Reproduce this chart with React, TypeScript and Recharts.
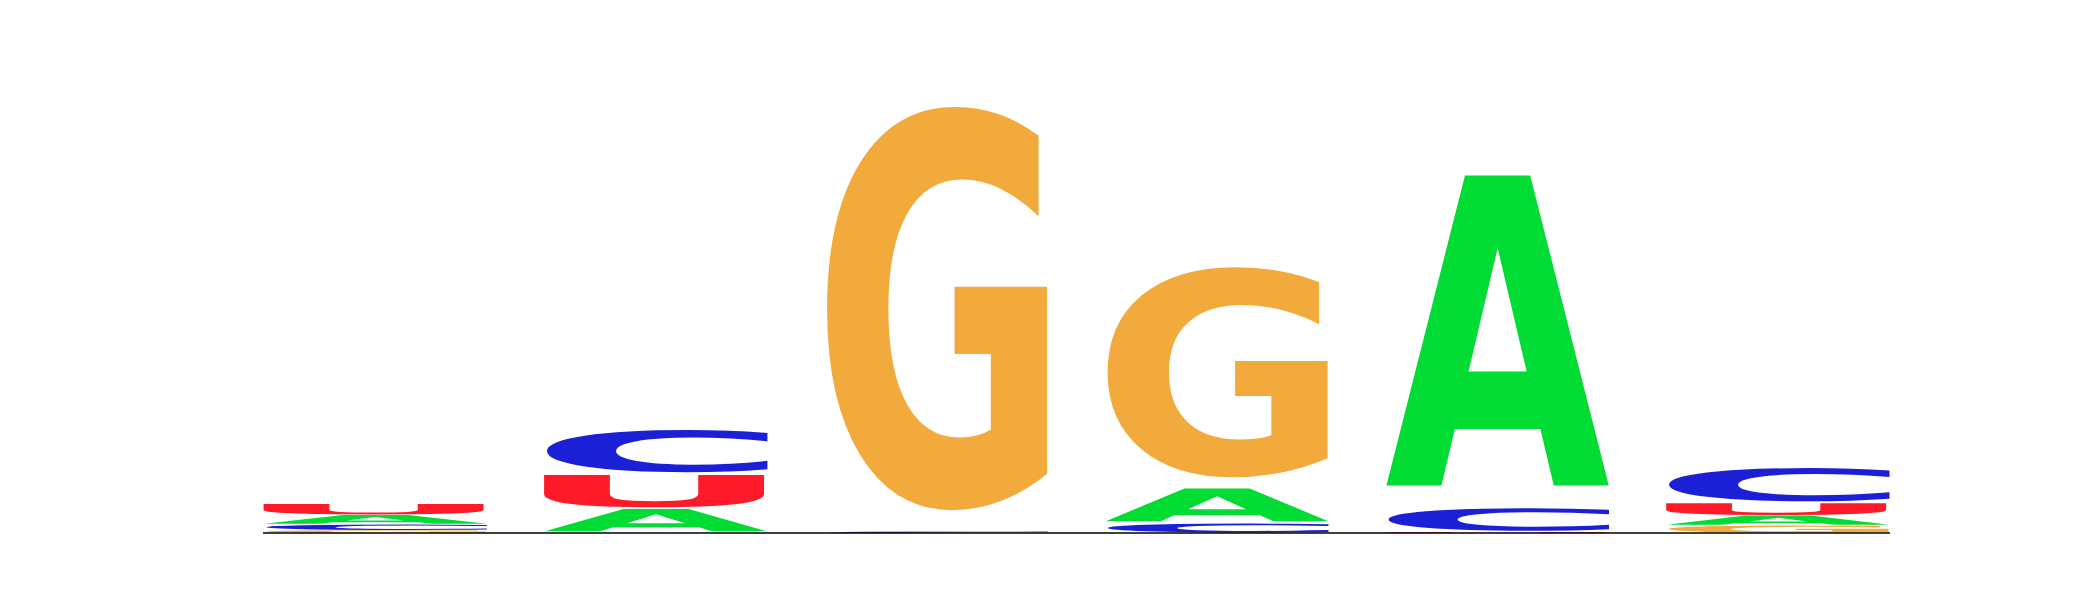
import React from 'react';
import { BarChart, Bar, XAxis, YAxis } from 'recharts';

const positions = [1, 2, 3, 4, 5, 6];
const letterA = [0.038, 0.096, 0, 0.14, 1.332, 0.04];
const letterC = [0.023, 0.18, 0.006, 0.038, 0.096, 0.141];
const letterG = [0.011, 0, 1.715, 0.894, 0, 0.03];
const letterU = [0.045, 0.138, 0, 0, 0.004, 0.05];

const LETTERS = ['A', 'C', 'G', 'U'];
const SERIES: Record<string, number[]> = { A: letterA, C: letterC, G: letterG, U: letterU };
const COLORS: Record<string, string> = {
  A: '#00DC33',
  C: '#1B1FD6',
  G: '#F2AA3C',
  U: '#FF1A2A',
};

const FONT = 'DejaVu Sans';
const FONT_SIZE = 100;
const INK = 0.945; // fraction of each stack cell covered by the glyph

// table: for each position, letters sorted ascending (smallest at the bottom)
const table = positions.map((pos, i) => {
  const row: Record<string, any> = { pos };
  const sorted = LETTERS.map((l) => ({ l, v: SERIES[l][i] }))
    .filter((d) => d.v > 0)
    .sort((a, b) => a.v - b.v);
  for (let r = 0; r < 4; r++) {
    row[`h${r}`] = sorted[r] ? sorted[r].v : 0;
    row[`l${r}`] = sorted[r] ? sorted[r].l : '';
  }
  return row;
});

type Metric = { L: number; R: number; A: number; D: number };
const metricCache: Record<string, Metric> = {};
const FALLBACK: Record<string, Metric> = {
  A: { L: -1, R: 76.5, A: 72.9, D: 0 },
  C: { L: -5.5, R: 67.5, A: 74.3, D: 1.5 },
  G: { L: -5.5, R: 77, A: 74.3, D: 1.5 },
  U: { L: -8.6, R: 72.6, A: 72.9, D: 1.5 },
};
function metrics(letter: string): Metric {
  if (metricCache[letter]) return metricCache[letter];
  let m: Metric = FALLBACK[letter];
  try {
    const c = document.createElement('canvas');
    const ctx = c.getContext('2d');
    if (ctx) {
      ctx.font = `bold ${FONT_SIZE}px "${FONT}"`;
      const t = ctx.measureText(letter);
      if (t.actualBoundingBoxRight + t.actualBoundingBoxLeft > 1) {
        m = {
          L: t.actualBoundingBoxLeft,
          R: t.actualBoundingBoxRight,
          A: t.actualBoundingBoxAscent,
          D: t.actualBoundingBoxDescent,
        };
      }
    }
  } catch (e) {
    // keep fallback
  }
  metricCache[letter] = m;
  return m;
}

const makeShape = (rank: number) => (props: any) => {
  const { x, y, width, height, payload } = props;
  const letter = payload ? payload[`l${rank}`] : '';
  if (!letter || !(height > 0) || !(width > 0)) return <g />;
  const m = metrics(letter);
  const sx = width / (m.L + m.R);
  const sy = (height * INK) / (m.A + m.D);
  return (
    <text
      x={0}
      y={0}
      transform={`translate(${x},${y}) scale(${sx},${sy}) translate(${m.L},${m.A})`}
      fontFamily={FONT}
      fontWeight="bold"
      fontSize={FONT_SIZE}
      fill={COLORS[letter]}
    >
      {letter}
    </text>
  );
};

export default function App() {
  return (
    <div style={{ position: 'absolute', left: 0, top: 0, width: 2100, height: 600, background: '#fff' }}>
      <BarChart
        width={2100}
        height={600}
        data={table}
        margin={{ top: 33, right: 210, bottom: 66, left: 263 }}
        barSize={224}
        barGap={0}
      >
        <XAxis
          dataKey="pos"
          type="number"
          domain={[0.6, 6.4]}
          allowDataOverflow
          tick={false}
          tickLine={false}
          height={1}
          axisLine={{ stroke: '#000', strokeWidth: 1.5 }}
        />
        <YAxis hide width={0} type="number" domain={[0, 2]} allowDataOverflow />
        {[0, 1, 2, 3].map((r) => (
          <Bar
            key={r}
            dataKey={`h${r}`}
            stackId="logo"
            isAnimationActive={false}
            shape={makeShape(r)}
          />
        ))}
      </BarChart>
    </div>
  );
}
